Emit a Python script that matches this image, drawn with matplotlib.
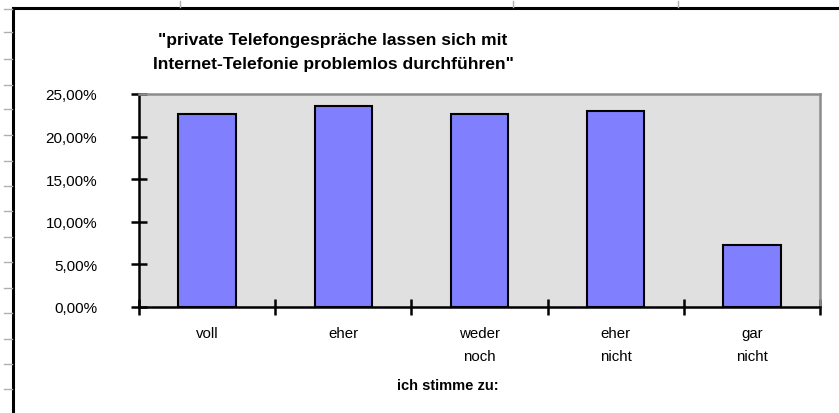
import matplotlib
matplotlib.use("Agg")
import matplotlib.pyplot as plt
from matplotlib.ticker import FixedLocator, FuncFormatter

plt.rcParams["font.family"] = ["Liberation Sans", "DejaVu Sans"]

categories = ["voll", "eher", "weder\nnoch", "eher\nnicht", "gar\nnicht"]
shares = [0.226, 0.236, 0.226, 0.230, 0.073]
yticks = [0.0, 0.05, 0.10, 0.15, 0.20, 0.25]

W, H = 839, 414
fig = plt.figure(figsize=(W / 100, H / 100), dpi=100)

# background layer in pixel coordinates (sheet frame + row markers)
bg = fig.add_axes([0, 0, 1, 1], zorder=0)
bg.set_xlim(0, W)
bg.set_ylim(H, 0)
bg.axis("off")
bg.plot([12.5, 12.5], [9, H], color="black", lw=2.2)
bg.plot([12.5, W], [9, 9], color="black", lw=2.2)
for y in [10, 33, 60, 86, 110, 136, 162, 187, 212, 238, 263, 289, 314, 340, 365, 390]:
    bg.plot([4, 12], [y, y], color="#b0b0b0", lw=1.0)
for x in [180, 513, 678]:
    bg.plot([x, x], [2, 8], color="#b0b0b0", lw=1.0)

# title and axis caption
bg.text(333, 40, "\"private Telefongespräche lassen sich mit", fontsize=12.6,
        fontweight="bold", ha="center", va="center")
bg.text(333, 64, "Internet-Telefonie problemlos durchführen\"", fontsize=12.6,
        fontweight="bold", ha="center", va="center")
bg.text(448, 386, "ich stimme zu:", fontsize=10.5, fontweight="bold",
        ha="center", va="center")

# chart
ax = fig.add_axes([139 / W, 1 - 308 / H, 681 / W, 213 / H], zorder=1)
ax.set_facecolor("#e0e0e0")
x = range(len(categories))
ax.bar(x, shares, width=0.42, color="#8080ff", edgecolor="black", lw=1.5)
ax.set_xlim(-0.5, len(categories) - 0.5)
ax.set_ylim(0, 0.25)

for side in ["left", "bottom"]:
    ax.spines[side].set_color("black")
    ax.spines[side].set_linewidth(1.8)
for side in ["top", "right"]:
    ax.spines[side].set_color("#8c8c8c")
    ax.spines[side].set_linewidth(1.8)

ax.yaxis.set_major_locator(FixedLocator(yticks))
ax.yaxis.set_major_formatter(
    FuncFormatter(lambda v, p: f"{v * 100:.2f}%".replace(".", ",")))
ax.tick_params(axis="y", direction="inout", length=12, width=1.8,
               labelsize=11, pad=24)

ax.set_xticks(list(x))
ax.set_xticklabels(categories, linespacing=1.75, va="top")
ax.set_xticks([i - 0.5 for i in range(len(categories) + 1)], minor=True)
ax.tick_params(axis="x", which="major", length=0, labelsize=10.8, pad=14)
ax.tick_params(axis="x", which="minor", direction="inout", length=11,
               width=1.8)

fig.savefig("out.png", dpi=100, facecolor="white")
